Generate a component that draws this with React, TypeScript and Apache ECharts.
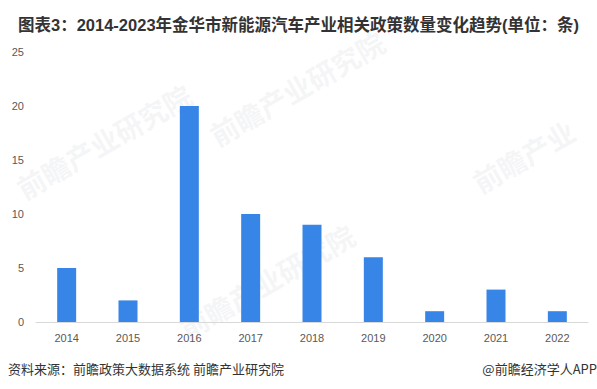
import React, { useEffect, useRef } from "react";
import * as echarts from "echarts";

const titleText = "图表3：2014-2023年金华市新能源汽车产业相关政策数量变化趋势(单位：条)";
const sourceText = "资料来源：前瞻政策大数据系统 前瞻产业研究院";
const brandText = "@前瞻经济学人APP";
const years = ["2014", "2015", "2016", "2017", "2018", "2019", "2020", "2021", "2022"];
const policyCounts = [5, 2, 20, 10, 9, 6, 1, 3, 1];
const yTicks = { min: 0, max: 25, interval: 5 };

const FONT = "'Liberation Sans', 'Noto Sans CJK SC', sans-serif";

export default function App() {
  const ref = useRef<HTMLDivElement>(null);
  useEffect(() => {
    if (!ref.current) return;
    const chart = echarts.init(ref.current, undefined, { renderer: "svg" });
    const wm = (x: number, y: number, size: number, text: string) => ({
      type: "text",
      x,
      y,
      rotation: Math.PI / 6,
      z: -1,
      silent: true,
      style: { text, fill: "rgba(205,210,218,0.22)", font: `bold ${size}px 'Noto Sans CJK SC', sans-serif` },
    });
    chart.setOption({
      animation: false,
      backgroundColor: "#ffffff",
      title: {
        text: titleText,
        left: "center",
        top: 12,
        textStyle: { fontSize: 16.5, fontWeight: "bold", color: "#333333", fontFamily: FONT },
      },
      grid: { left: 36, right: 9, top: 52, bottom: 67 },
      xAxis: {
        type: "category",
        data: years,
        axisLine: { lineStyle: { color: "#d9d9d9", width: 1 } },
        axisTick: { show: false },
        axisLabel: { color: "#595959", fontSize: 11, margin: 10, fontFamily: FONT },
      },
      yAxis: {
        type: "value",
        min: yTicks.min,
        max: yTicks.max,
        interval: yTicks.interval,
        splitLine: { show: false },
        axisLine: { show: false },
        axisTick: { show: false },
        axisLabel: { color: "#595959", fontSize: 11, margin: 12, fontFamily: FONT },
      },
      series: [
        {
          type: "bar",
          data: policyCounts,
          barWidth: 19,
          itemStyle: { color: "#3785e6" },
        },
      ],
      graphic: [
        wm(12, 178, 28, "前瞻产业研究院"),
        wm(205, 125, 28, "前瞻产业研究院"),
        wm(175, 318, 28, "前瞻产业研究院"),
        wm(468, 172, 28, "前瞻产业"),
        {
          type: "text",
          left: 8,
          top: 362,
          style: { text: sourceText, fill: "#333333", font: `13px 'Noto Sans CJK SC', sans-serif` },
        },
        {
          type: "text",
          right: 0,
          top: 362,
          style: { text: brandText, fill: "#333333", font: `13px 'Noto Sans CJK SC', sans-serif` },
        },
      ],
    });
    return () => chart.dispose();
  }, []);
  return <div ref={ref} style={{ position: "fixed", left: 0, top: 0, width: 597, height: 389 }} />;
}
